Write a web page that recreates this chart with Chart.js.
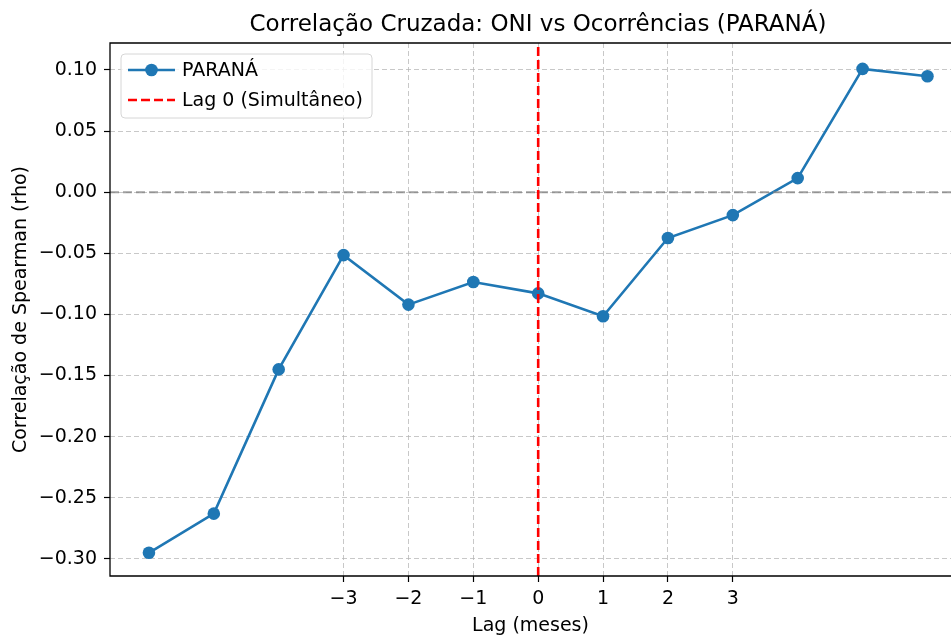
<!DOCTYPE html>
<html>
<head>
<meta charset="utf-8">
<script src="https://cdn.jsdelivr.net/npm/chart.js@4"></script>
<style>
  html, body { margin: 0; padding: 0; background: #fff; }
  #wrap { width: 951px; height: 637px; position: relative; }
</style>
</head>
<body>
<div id="wrap"><canvas id="myChart"></canvas></div>
<script>
// lags (meses) e correlação de Spearman
const lags = [-6, -5, -4, -3, -2, -1, 0, 1, 2, 3, 4, 5, 6];
const rho = [-0.295, -0.263, -0.145, -0.0515, -0.092, -0.0735, -0.0828, -0.1015, -0.0375, -0.0188, 0.0115, 0.1008, 0.0948];
const xTicks = [-3, -2, -1, 0, 1, 2, 3];
const yTicks = [-0.30, -0.25, -0.20, -0.15, -0.10, -0.05, 0.00, 0.05, 0.10];
const xRange = [-6.6, 6.363];
const yRange = [-0.314, 0.122];
const titleText = 'Correlação Cruzada: ONI vs Ocorrências (PARANÁ)';
const seriesName = 'PARANÁ';
const lagName = 'Lag 0 (Simultâneo)';

const FONT = "'DejaVu Sans', sans-serif";
const blue = '#1f77b4';
const FS = 19;

function minus(s) { return s.replace('-', '\u2212'); }

const pts = lags.map((x, i) => ({ x: x, y: rho[i] }));

// titulo + legenda desenhados à mão
const extras = {
    id: 'extras',
    afterDraw(chart) {
        const ctx = chart.ctx;
        const a = chart.chartArea;
        ctx.save();
        ctx.fillStyle = '#000';
        ctx.font = '23px ' + FONT;
        ctx.textAlign = 'center';
        ctx.textBaseline = 'middle';
        ctx.fillText(titleText, 538, 25);

        // legenda
        const lx = 121, ly = 54, lw = 251, lh = 64;
        ctx.beginPath();
        ctx.roundRect(lx, ly, lw, lh, 4);
        ctx.fillStyle = 'rgba(255,255,255,0.8)';
        ctx.fill();
        ctx.strokeStyle = '#d6d6d6';
        ctx.lineWidth = 1;
        ctx.stroke();

        ctx.lineWidth = 2.6;
        ctx.strokeStyle = blue;
        ctx.beginPath();
        ctx.moveTo(128, 70); ctx.lineTo(175, 70);
        ctx.stroke();
        ctx.fillStyle = blue;
        ctx.beginPath();
        ctx.arc(151.5, 70, 6.3, 0, Math.PI * 2);
        ctx.fill();

        ctx.strokeStyle = 'red';
        ctx.setLineDash([9, 4]);
        ctx.beginPath();
        ctx.moveTo(128, 100); ctx.lineTo(175, 100);
        ctx.stroke();
        ctx.setLineDash([]);

        ctx.fillStyle = '#000';
        ctx.font = FS + 'px ' + FONT;
        ctx.textAlign = 'left';
        ctx.fillText(seriesName, 182, 71);
        ctx.fillText(lagName, 182, 101);

        // eixos (spines), sem borda direita como no original recortado
        ctx.strokeStyle = '#000';
        ctx.lineWidth = 1.3;
        ctx.beginPath();
        ctx.moveTo(951, a.top);
        ctx.lineTo(a.left, a.top);
        ctx.lineTo(a.left, a.bottom);
        ctx.lineTo(951, a.bottom);
        ctx.stroke();
        ctx.restore();
    }
};

const data = {
    datasets: [
        {
            label: seriesName,
            data: pts,
            borderColor: blue,
            backgroundColor: blue,
            borderWidth: 2.6,
            pointRadius: 6.3,
            pointHoverRadius: 6.3,
            pointBorderWidth: 0,
            tension: 0,
            order: 3
        },
        {
            label: 'zero',
            data: [{ x: xRange[0], y: 0 }, { x: xRange[1], y: 0 }],
            borderColor: 'rgba(128,128,128,0.75)',
            borderWidth: 2,
            borderDash: [9, 4],
            pointRadius: 0,
            order: 2
        },
        {
            label: lagName,
            data: [{ x: 0, y: yRange[0] }, { x: 0, y: yRange[1] }],
            borderColor: 'red',
            borderWidth: 2.6,
            borderDash: [9, 4],
            pointRadius: 0,
            order: 1
        }
    ]
};

const gridOpts = {
    color: 'rgba(176,176,176,0.7)',
    lineWidth: 1,
    drawTicks: true,
    tickLength: 6,
    tickColor: '#000',
    tickWidth: 1.2,
    tickBorderDash: []
};

const config = {
    type: 'line',
    data: data,
    plugins: [extras],
    options: {
        responsive: false,
        animation: false,
        devicePixelRatio: 1,
        layout: { autoPadding: false, padding: { top: 43, right: 0, left: 0, bottom: 0 } },
        plugins: {
            legend: { display: false },
            title: { display: false },
            tooltip: { enabled: false }
        },
        scales: {
            x: {
                type: 'linear',
                min: xRange[0],
                max: xRange[1],
                grid: gridOpts,
                border: { display: false, dash: [5, 3] },
                afterBuildTicks: (s) => { s.ticks = xTicks.map(v => ({ value: v })); },
                afterFit: (s) => { s.height = 61; s.paddingRight = 0; s.paddingLeft = 0; },
                ticks: {
                    color: '#000',
                    font: { family: FONT, size: FS },
                    padding: 6,
                    maxRotation: 0,
                    callback: (v) => minus(String(v))
                },
                title: {
                    display: true,
                    text: 'Lag (meses)',
                    color: '#000',
                    font: { family: FONT, size: FS },
                    padding: { top: 0, bottom: 0 }
                }
            },
            y: {
                type: 'linear',
                min: yRange[0],
                max: yRange[1],
                grid: gridOpts,
                border: { display: false, dash: [5, 3] },
                afterBuildTicks: (s) => { s.ticks = yTicks.map(v => ({ value: v })); },
                afterFit: (s) => { s.width = 110; s.paddingTop = 0; s.paddingBottom = 0; },
                ticks: {
                    color: '#000',
                    font: { family: FONT, size: FS },
                    padding: 7,
                    callback: (v) => minus(v.toFixed(2))
                },
                title: {
                    display: true,
                    text: 'Correlação de Spearman (rho)',
                    color: '#000',
                    font: { family: FONT, size: FS },
                    padding: { top: 10, bottom: 0 }
                }
            }
        }
    }
};

window.onload = function () {
    const cv = document.getElementById('myChart');
    cv.width = 951;
    cv.height = 637;
    new Chart(cv, config);
};
</script>
</body>
</html>
